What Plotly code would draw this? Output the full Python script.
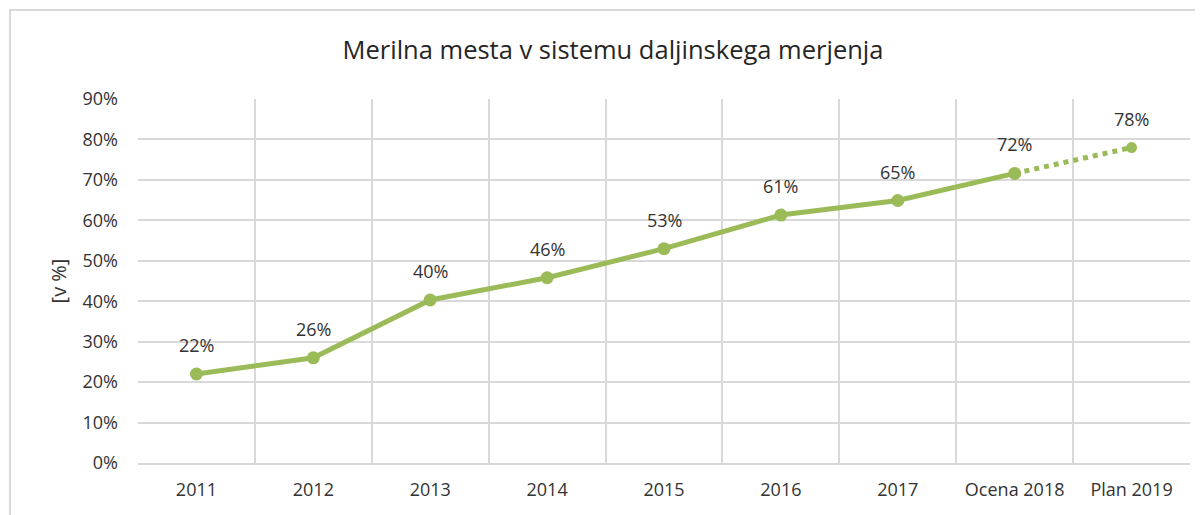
import plotly.graph_objects as go

categories = ["2011", "2012", "2013", "2014", "2015", "2016", "2017", "Ocena 2018", "Plan 2019"]
values = [0.22, 0.26, 0.403, 0.458, 0.53, 0.613, 0.649, 0.716, 0.78]
labels = ["22%", "26%", "40%", "46%", "53%", "61%", "65%", "72%", "78%"]
y_ticks = [i / 10 for i in range(10)]

GREEN = "#9BBB59"
FONT = "Open Sans"
TXT = "#333333"
TICK = "#333333"

# page is offset by 8px body margin
OFF = 8
W, H = 1203 - OFF, 515 - OFF
L, T = 138 - OFF, 99 - OFF
R = W - (1190 - OFF)
B = H - (463 - OFF)
pw, ph = W - L - R, H - T - B

fig = go.Figure()
fig.add_trace(go.Scatter(
    x=categories[:8], y=values[:8], mode="lines+markers",
    line=dict(color=GREEN, width=5),
    marker=dict(color=GREEN, size=13),
    cliponaxis=False, showlegend=False, hoverinfo="skip",
))
fig.add_trace(go.Scatter(
    x=categories[7:], y=values[7:], mode="lines",
    line=dict(color=GREEN, width=5, dash="dot"),
    showlegend=False, hoverinfo="skip",
))
fig.add_trace(go.Scatter(
    x=categories[8:], y=values[8:], mode="markers",
    marker=dict(color=GREEN, size=11, symbol="circle"),
    cliponaxis=False, showlegend=False, hoverinfo="skip",
))

# data labels (category axis -> use category index positions)
for i, (v, t) in enumerate(zip(values, labels)):
    fig.add_annotation(x=i, y=v, text=t, showarrow=False, yshift=29,
                       font=dict(family=FONT, size=18, color=TXT))

# chart-area border (Excel style)
fig.add_shape(type="rect", xref="paper", yref="paper",
              x0=(10 - 138) / pw, x1=(1203 + 30 - 138) / pw,
              y0=-(60) / ph, y1=(463 - 10) / ph,
              line=dict(color="#D9D9D9", width=2), fillcolor="rgba(0,0,0,0)", layer="below")

fig.update_layout(
    width=W, height=H,
    margin=dict(l=L, r=R, t=T, b=B),
    paper_bgcolor="white", plot_bgcolor="white",
    title=dict(text="Merilna mesta v sistemu daljinskega merjenja",
               x=(613 - OFF) / W, xanchor="center", y=1 - (50 - OFF) / H, yanchor="middle",
               font=dict(family=FONT, size=25.5, color="#262626")),
    xaxis=dict(type="category", tickson="boundaries", showgrid=True,
               gridcolor="#D9D9D9", gridwidth=1.5, ticks="", showline=True,
               linecolor="#D9D9D9", linewidth=1.5, mirror=False,
               tickfont=dict(family=FONT, size=18, color=TICK),
               ticklabelstandoff=10,
               range=[-0.5, 8.5]),
    yaxis=dict(range=[0, 0.9], tickvals=y_ticks, tickformat=".0%",
               showgrid=True, gridcolor="#D9D9D9", gridwidth=1.5,
               zeroline=False, showline=False, ticks="",
               tickfont=dict(family=FONT, size=18, color=TICK),
               ticklabelstandoff=19,
               title=dict(text="[v %]", font=dict(family=FONT, size=20, color=TXT),
                          standoff=10)),
)

fig.write_html("out.html")
